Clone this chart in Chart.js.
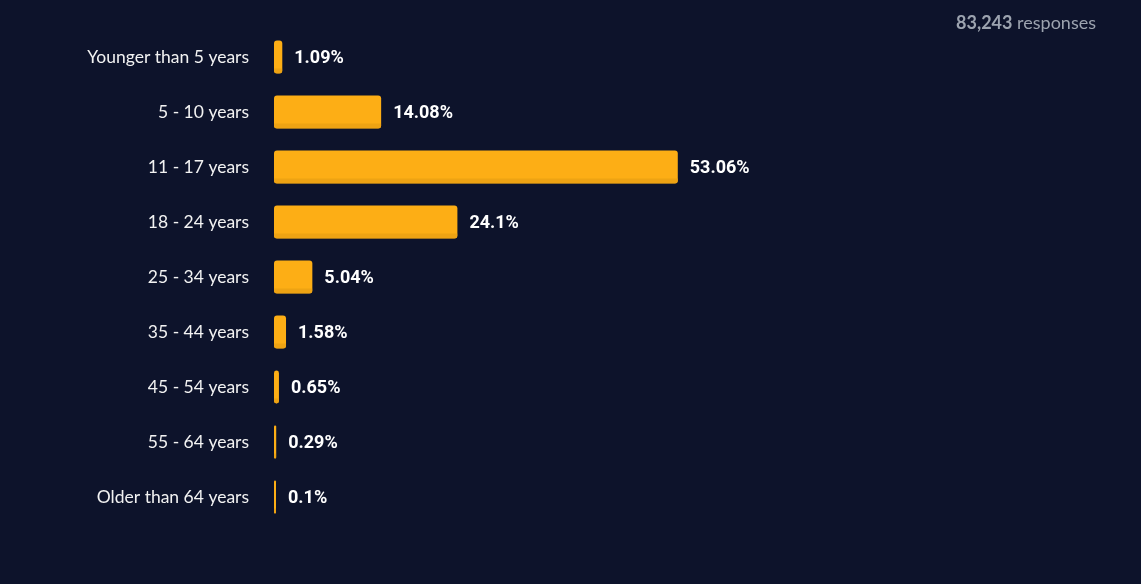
<!DOCTYPE html>
<html>
<head>
<meta charset="utf-8">
<script src="https://cdn.jsdelivr.net/npm/chart.js@4"></script>
<style>
  html, body { margin: 0; padding: 0; background: #0d132b; }
  #wrap { position: relative; width: 1141px; height: 584px; }
  canvas { display: block; }
  #responses {
    position: absolute; right: 45px; top: 11px;
    font-family: "Lato", sans-serif; font-size: 18px; color: #9ca3af;
  }
  #responses b { font-weight: 700; }
</style>
</head>
<body>
<div id="wrap">
  <canvas id="ageChart" width="1141" height="584"></canvas>
  <div id="responses"><b>83,243</b> responses</div>
</div>
<script>
const ageGroups = [
  "Younger than 5 years", "5 - 10 years", "11 - 17 years", "18 - 24 years",
  "25 - 34 years", "35 - 44 years", "45 - 54 years", "55 - 64 years", "Older than 64 years"
];
const sharePct = [1.09, 14.08, 53.06, 24.1, 5.04, 1.58, 0.65, 0.29, 0.1];

// darker strip along the bottom of each bar, then the value text
const barExtras = {
  id: "barExtras",
  afterDatasetsDraw(chart) {
    const { ctx } = chart;
    const meta = chart.getDatasetMeta(0);
    ctx.save();
    meta.data.forEach((bar) => {
      const left = Math.min(bar.base, bar.x);
      const w = Math.abs(bar.x - bar.base);
      const top = bar.y - bar.height / 2;
      ctx.save();
      ctx.beginPath();
      ctx.roundRect(left, top, w, bar.height, Math.min(3, w / 2));
      ctx.clip();
      ctx.fillStyle = "#eea313";
      ctx.fillRect(left, top + bar.height - 5, w, 5);
      ctx.restore();
    });
    ctx.font = "bold 18px 'Roboto', sans-serif";
    ctx.fillStyle = "#ffffff";
    ctx.textBaseline = "middle";
    meta.data.forEach((bar, i) => {
      ctx.fillText(sharePct[i] + "%", bar.x + 12, bar.y + 1);
    });
    ctx.restore();
  }
};

const canvasElement = document.getElementById("ageChart");
new Chart(canvasElement.getContext("2d"), {
  type: "bar",
  data: {
    labels: ageGroups,
    datasets: [{
      data: sharePct,
      backgroundColor: "#fdae15",
      borderWidth: 0,
      borderSkipped: false,
      borderRadius: 3,
      minBarLength: 2,
      categoryPercentage: 1,
      barPercentage: 0.6
    }]
  },
  options: {
    indexAxis: "y",
    responsive: false,
    animation: false,
    layout: { padding: { top: 29.5, bottom: 59.5, left: 0, right: 106 } },
    scales: {
      x: { display: false, min: 0, max: 100 },
      y: {
        grid: { display: false, drawTicks: false },
        border: { display: false },
        ticks: {
          color: "#f2f2f2",
          padding: 25,
          font: { family: "Lato", size: 17.5 }
        },
        afterFit(scale) {
          scale.width = 274;
          scale.paddingTop = 0;
          scale.paddingBottom = 0;
        }
      }
    },
    plugins: {
      legend: { display: false },
      tooltip: { enabled: false }
    }
  },
  plugins: [barExtras]
});
</script>
</body>
</html>
